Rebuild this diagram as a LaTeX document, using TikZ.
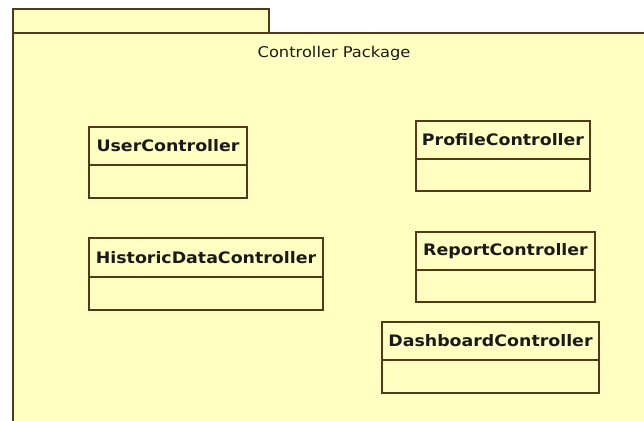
\documentclass[tikz,border=0pt]{standalone}
\usepackage{fontspec}
\setmainfont{DejaVu Sans}[FakeStretch=1.1]
\definecolor{pkgfill}{HTML}{FFFFC2}
\definecolor{pkgline}{HTML}{55381C}
\definecolor{txt}{HTML}{1A1A1A}
\tikzset{
  pkgpart/.style={draw=pkgline, fill=pkgfill, line width=1.6pt, inner sep=0pt, outer sep=0pt, anchor=north west},
  namebox/.style={draw=pkgline, fill=pkgfill, line width=1.6pt, inner sep=0pt, outer sep=0pt, anchor=north west,
     text=txt, font=\fontsize{15.8}{18}\selectfont\bfseries},
  attrbox/.style={draw=pkgline, fill=pkgfill, line width=1.6pt, inner sep=0pt, outer sep=0pt, anchor=north},
  titletext/.style={text=txt, inner sep=0pt, font=\fontsize{14.8}{17}\selectfont}
}
\begin{document}
\begin{tikzpicture}[x=1pt,y=-1pt]
\useasboundingbox (0,0) rectangle (644,420);
\fill[white] (0,0) rectangle (644,420);
\clip (0,0) rectangle (644,420);
% package
\node[pkgpart, minimum width=256pt, minimum height=24pt] (tab) at (13,9) {};
\node[pkgpart, minimum width=660pt, minimum height=420pt] (pkg) at (13,33) {};
\node[titletext] (title) at (334,53) {Controller Package};
% classes
\node[namebox, minimum width=158pt, minimum height=38pt] (user) at (89,127) {UserController};
\node[attrbox, minimum width=158pt, minimum height=33pt] (user-a) at (user.south) {};
\node[namebox, minimum width=234pt, minimum height=39pt] (hist) at (89,238) {HistoricDataController};
\node[attrbox, minimum width=234pt, minimum height=33pt] (hist-a) at (hist.south) {};
\node[namebox, minimum width=174pt, minimum height=38pt] (prof) at (416,121) {ProfileController};
\node[attrbox, minimum width=174pt, minimum height=32pt] (prof-a) at (prof.south) {};
\node[namebox, minimum width=179pt, minimum height=38pt] (rep) at (416,232) {ReportController};
\node[attrbox, minimum width=179pt, minimum height=32pt] (rep-a) at (rep.south) {};
\node[namebox, minimum width=217pt, minimum height=38pt] (dash) at (382,322) {DashboardController};
\node[attrbox, minimum width=217pt, minimum height=33pt] (dash-a) at (dash.south) {};
\end{tikzpicture}
\end{document}
